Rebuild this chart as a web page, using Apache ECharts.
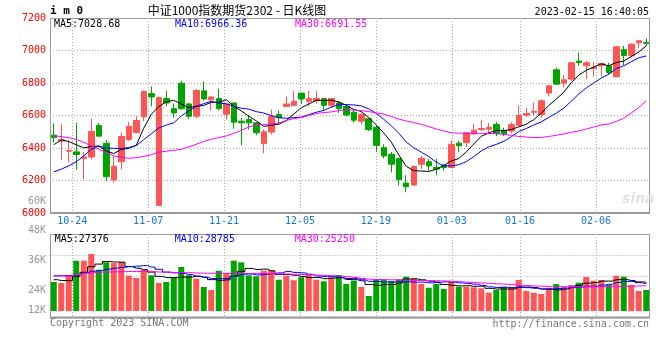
<!DOCTYPE html>
<html><head><meta charset="utf-8">
<script src="https://cdn.jsdelivr.net/npm/echarts@6/dist/echarts.min.js"></script>
<style>html,body{margin:0;padding:0;background:#fff}#c{width:660px;height:360px}</style>
</head><body><div id="c"></div>
<script>
const dates = ['2022-10-19','2022-10-20','2022-10-21','2022-10-24','2022-10-25','2022-10-26','2022-10-27','2022-10-28','2022-10-31',
'2022-11-01','2022-11-02','2022-11-03','2022-11-04','2022-11-07','2022-11-08','2022-11-09','2022-11-10','2022-11-11',
'2022-11-14','2022-11-15','2022-11-16','2022-11-17','2022-11-18','2022-11-21','2022-11-22','2022-11-23','2022-11-24','2022-11-25',
'2022-11-28','2022-11-29','2022-11-30','2022-12-01','2022-12-02','2022-12-05','2022-12-06','2022-12-07','2022-12-08','2022-12-09',
'2022-12-12','2022-12-13','2022-12-14','2022-12-15','2022-12-16','2022-12-19','2022-12-20','2022-12-21','2022-12-22','2022-12-23',
'2022-12-26','2022-12-27','2022-12-28','2022-12-29','2022-12-30','2023-01-03','2023-01-04','2023-01-05','2023-01-06',
'2023-01-09','2023-01-10','2023-01-11','2023-01-12','2023-01-13','2023-01-16','2023-01-17','2023-01-18','2023-01-19','2023-01-20',
'2023-01-30','2023-01-31','2023-02-01','2023-02-02','2023-02-03','2023-02-06','2023-02-07','2023-02-08','2023-02-09','2023-02-10',
'2023-02-13','2023-02-14','2023-02-15'];
const tickDates = ['10-24','11-07','11-21','12-05','12-19','01-03','01-16','02-06'];

const opens = [6479,6443,6380,6376,6337,6345,6539,6429,6203,6315,6453,6494,6592,6734,6046,6704,6642,6799,6671,6595,
6752,6697,6704,6608,6677,6565,6575,6555,6427,6498,6606,6656,6661,6738,6687,6690,6704,6663,6677,6656,
6620,6565,6580,6528,6402,6362,6335,6184,6172,6300,6315,6280,6294,6280,6430,6433,6486,6514,6516,6545,
6508,6504,6539,6602,6620,6606,6738,6881,6799,6824,6935,6906,6890,6906,6905,6839,7005,6968,7047,7050];
const closes = [6464,6451,6384,6360,6345,6502,6473,6223,6288,6471,6533,6569,6748,6714,6710,6677,6616,6642,6595,6754,
6702,6714,6642,6671,6559,6555,6555,6494,6500,6595,6586,6671,6687,6702,6704,6704,6663,6704,6642,6603,
6571,6606,6514,6416,6351,6300,6205,6162,6286,6337,6290,6270,6280,6423,6414,6494,6510,6520,6527,6488,
6488,6545,6600,6612,6626,6691,6783,6793,6820,6925,6925,6925,6896,6921,6864,7023,6969,7039,7060,7045];
const lows = [6433,6327,6314,6266,6209,6331,6473,6198,6186,6270,6443,6490,6565,6656,6046,6656,6586,6636,6580,6583,
6693,6632,6632,6575,6518,6418,6514,6479,6368,6484,6549,6653,6656,6671,6656,6673,6632,6647,6616,6595,
6555,6545,6504,6376,6337,6250,6168,6128,6168,6270,6260,6233,6260,6280,6375,6406,6480,6504,6484,6473,
6473,6490,6539,6592,6600,6586,6718,6789,6775,6814,6906,6824,6839,6839,6850,6835,6908,6958,7014,7027];
const highs = [6551,6545,6449,6555,6376,6581,6555,6449,6351,6494,6561,6595,6754,6779,6718,6752,6673,6812,6677,6763,
6809,6722,6765,6671,6681,6586,6604,6559,6514,6636,6630,6718,6752,6738,6752,6752,6704,6708,6691,6667,
6636,6616,6586,6539,6423,6376,6341,6233,6294,6351,6331,6335,6300,6447,6445,6500,6549,6575,6555,6561,
6525,6559,6661,6647,6681,6698,6783,6895,6850,6925,6986,6937,6928,6921,6925,7027,7029,7044,7064,7074];

const ma5 = [6420,6449,6440,6420,6401,6408,6413,6381,6366,6391,6398,6417,6522,6607,6655,6684,6693,6672,6648,6657,
6662,6681,6681,6697,6658,6628,6596,6567,6533,6540,6546,6569,6608,6648,6670,6694,6692,6695,6683,6663,
6637,6625,6587,6542,6492,6437,6357,6287,6261,6258,6256,6269,6293,6320,6335,6376,6424,6472,6493,6508,
6507,6514,6530,6547,6574,6615,6662,6701,6743,6802,6849,6878,6898,6918,6906,6926,6935,6963,6991,7028.68];
const ma10 = [6253,6270,6290,6315,6351,6392,6412,6400,6398,6396,6403,6415,6451,6487,6523,6541,6555,6597,6628,6656,
6673,6687,6677,6672,6657,6645,6639,6624,6615,6599,6587,6583,6587,6590,6605,6620,6631,6652,6666,6667,
6665,6659,6641,6613,6577,6537,6491,6437,6401,6375,6347,6313,6290,6290,6297,6316,6347,6382,6407,6422,
6441,6469,6501,6520,6541,6561,6588,6615,6645,6688,6732,6770,6800,6831,6854,6888,6906,6931,6955,6966.36];
const ma30 = [6476,6470,6464,6453,6435,6413,6392,6374,6352,6343,6337,6340,6349,6358,6374,6380,6386,6392,6407,6423,
6441,6453,6465,6474,6490,6508,6529,6542,6545,6548,6554,6569,6581,6587,6600,6612,6618,6622,6630,6636,
6633,6630,6624,6616,6609,6594,6578,6566,6557,6545,6532,6517,6505,6494,6491,6490,6490,6490,6490,6489,
6484,6478,6471,6468,6464,6465,6471,6478,6487,6496,6505,6517,6529,6542,6548,6563,6584,6616,6649,6691.55];

const volumes = [29000,28000,35700,50300,50300,57000,41300,48700,48000,49000,35300,33000,41300,35700,28000,29000,33000,44000,35700,32300,
24000,21000,40300,38000,50300,48700,35700,34700,40300,41000,31300,35300,30700,33700,36300,31300,29700,33500,36000,27000,
30300,24000,15000,31700,31700,30000,31700,34300,33000,27000,23300,27000,22000,29000,24300,24300,23700,22700,18300,21000,
24300,23700,31000,20000,18300,17000,23300,27000,23700,26000,28300,34000,30300,31000,26000,35300,34300,26000,20000,21000];
const volMa5 = [31300,30500,30300,34700,38660,44260,46920,49520,49060,48800,44460,42800,41320,38860,34660,33400,33400,33940,33940,34800,
33800,31400,30660,31120,34720,39660,42600,41480,41940,40080,36600,36520,35720,34400,33460,33460,32340,32900,33360,31500,
31300,30160,26460,25600,26540,26480,28020,31880,32140,31200,29860,28920,26460,25660,25120,25320,24660,24800,22660,22000,
22000,22000,23660,24000,23460,22000,21920,21120,21860,23400,25660,27800,28460,29920,29920,31320,31380,30520,28320,27376];
const volMa10 = [35300,35300,35500,36300,38000,39700,40500,41800,42800,43730,44360,44860,45420,43960,41730,38930,38100,37630,36400,34730,
33600,32400,32300,32530,34760,36730,37000,36070,36530,37400,38130,39560,38600,38170,36770,35030,34430,34310,33880,32480,
32380,31250,29680,29480,29020,28890,29090,29170,28870,28870,28170,28470,29170,28900,28160,27590,26790,25630,24160,23560,
23660,23330,24230,23330,22730,22000,21960,22390,22930,23430,23830,24860,24790,25890,26660,28490,29590,29490,29120,28785];
const volMa30 = [35000,35000,35000,36500,37500,38300,38800,39000,39200,39300,39500,39500,39500,39300,39000,38800,38500,38300,38300,38000,
37800,37700,37700,37600,37600,37500,37500,37400,37400,37300,37200,37000,36800,36500,36200,35900,35600,35300,34800,34300,
33500,32500,31800,31500,31300,31200,31000,30800,30600,30400,30300,30200,30000,29600,29200,28800,28400,28000,27600,27200,
26800,26300,25800,25400,25000,24800,24600,24400,24300,24200,24100,24100,24200,24300,24400,24600,24800,24900,25100,25250];

const priceMin = 6000, priceMax = 7200, priceStep = 200;
const volLabelMin = 12000, volLabelMax = 60000, volLabelStep = 12000;

const RED = '#ff5555', GREEN = '#00a400';
const MONO = 'DejaVu Sans Mono';
const GRID_C = '#aaaaaa';
const showTick = (i) => tickDates.indexOf(dates[i].slice(5)) >= 0;
const isUp = (i) => closes[i] >= opens[i];

const chart = echarts.init(document.getElementById('c'), null, {renderer: 'canvas', width: 660, height: 360});
const dotted = {color: GRID_C, width: 1, type: [1, 2]};
const txt = (text, x, y, color, opt) => Object.assign({
  type: 'text', x: x, y: y, z: 100, silent: true,
  style: Object.assign({text: text, fill: color, font: '10px "' + MONO + '"', textAlign: 'left', textVerticalAlign: 'middle'}, opt || {})
});

const option = {
  animation: false,
  backgroundColor: '#ffffff',
  grid: [
    {left: 50, top: 18, width: 600, height: 195, containLabel: false, outerBoundsMode: 'none'},
    {left: 49.5, top: 18, width: 599.6, height: 195, containLabel: false, outerBoundsMode: 'none'},
    {left: 50, top: 234, width: 600, height: 77, containLabel: false, outerBoundsMode: 'none'},
    {left: 49.5, top: 234, width: 599.6, height: 84, containLabel: false, outerBoundsMode: 'none'},
    {left: 50, top: 201, width: 600, height: 119, containLabel: false, outerBoundsMode: 'none'}
  ],
  xAxis: [
    {gridIndex: 0, type: 'category', data: dates, boundaryGap: true, show: false},
    {gridIndex: 1, type: 'category', data: dates, boundaryGap: false,
      axisLine: {show: false}, axisTick: {show: false},
      axisLabel: {interval: (i) => showTick(i), formatter: (v) => v.slice(5), color: '#1677cc',
        fontFamily: MONO, fontSize: 10, lineHeight: 10, margin: 3, hideOverlap: false},
      splitLine: {show: true, interval: (i) => showTick(i), lineStyle: dotted}},
    {gridIndex: 2, type: 'category', data: dates, boundaryGap: true, show: false},
    {gridIndex: 3, type: 'category', data: dates, boundaryGap: false,
      axisLine: {show: false}, axisTick: {show: false}, axisLabel: {show: false},
      splitLine: {show: true, interval: (i) => showTick(i), lineStyle: dotted}},
    {gridIndex: 4, type: 'category', data: dates, show: false}
  ],
  yAxis: [
    {gridIndex: 0, type: 'value', min: priceMin, max: priceMax, interval: priceStep,
      axisLine: {show: false}, axisTick: {show: false},
      axisLabel: {color: '#ff0000', fontFamily: MONO, fontSize: 10, margin: 4, formatter: (v) => String(v)},
      splitLine: {show: true, lineStyle: dotted}},
    {gridIndex: 1, type: 'value', min: 0, max: 1, show: false},
    {gridIndex: 2, type: 'value', min: 0, max: 77000, show: false},
    {gridIndex: 3, type: 'value', min: 0, max: 4, interval: 1,
      axisLine: {show: false}, axisTick: {show: false}, axisLabel: {show: false},
      splitLine: {show: true, lineStyle: dotted}},
    {gridIndex: 4, type: 'value', min: volLabelMin, max: volLabelMax, interval: volLabelStep,
      axisLine: {show: false}, axisTick: {show: false}, splitLine: {show: false},
      axisLabel: {color: '#999999', fontFamily: MONO, fontSize: 10, margin: 4,
        formatter: (v) => v === volLabelMin ? '{lo|' + (v / 1000) + 'K}' : (v / 1000) + 'K',
        rich: {lo: {color: '#999999', fontFamily: MONO, fontSize: 10, padding: [0, 0, 19, 0]}}}}
  ],
  series: [
    {type: 'candlestick', xAxisIndex: 0, yAxisIndex: 0, barWidth: 6,
      data: dates.map((d, i) => [opens[i], closes[i], lows[i], highs[i]]),
      itemStyle: {color: RED, color0: GREEN, borderColor: RED, borderColor0: GREEN, borderWidth: 1}},
    {type: 'line', xAxisIndex: 0, yAxisIndex: 0, data: ma5, symbol: 'none', lineStyle: {color: '#000000', width: 1}},
    {type: 'line', xAxisIndex: 0, yAxisIndex: 0, data: ma10, symbol: 'none', lineStyle: {color: '#0000ff', width: 1}},
    {type: 'line', xAxisIndex: 0, yAxisIndex: 0, data: ma30, symbol: 'none', lineStyle: {color: '#ff00ff', width: 1}},
    {type: 'bar', xAxisIndex: 2, yAxisIndex: 2, data: volumes, barWidth: 6,
      itemStyle: {color: (p) => isUp(p.dataIndex) ? RED : GREEN}},
    {type: 'line', xAxisIndex: 2, yAxisIndex: 2, data: volMa5, symbol: 'none', step: 'middle', lineStyle: {color: '#000000', width: 1}},
    {type: 'line', xAxisIndex: 2, yAxisIndex: 2, data: volMa10, symbol: 'none', step: 'middle', lineStyle: {color: '#0000ff', width: 1}},
    {type: 'line', xAxisIndex: 2, yAxisIndex: 2, data: volMa30, symbol: 'none', step: 'middle', lineStyle: {color: '#ff00ff', width: 1}}
  ],
  graphic: [
    {type: 'rect', z: 90, silent: true, shape: {x: 50.5, y: 18.5, width: 599, height: 194.5}, style: {fill: null, stroke: '#999999', lineWidth: 1}},
    {type: 'line', z: 90, silent: true, shape: {x1: 50, y1: 213, x2: 650, y2: 213}, style: {stroke: '#999999', lineWidth: 2}},
    {type: 'rect', z: 90, silent: true, shape: {x: 50.5, y: 234.5, width: 599, height: 83}, style: {fill: null, stroke: '#999999', lineWidth: 1}},
    {type: 'line', z: 90, silent: true, shape: {x1: 50, y1: 317.5, x2: 650, y2: 317.5}, style: {stroke: '#999999', lineWidth: 2}},
    txt('i m 0', 50, 11, '#000000', {font: 'bold 11px "' + MONO + '"'}),
    txt('中证1000指数期货2302 - 日K线图', 237, 10, '#000000', {font: '12px "Noto Sans CJK SC"', textAlign: 'center'}),
    txt('2023-02-15 16:40:05', 649, 12, '#000000', {textAlign: 'right'}),
    txt('MA5:7028.68', 54, 24, '#000000'),
    txt('MA10:6966.36', 175, 24, '#0000ff'),
    txt('MA30:6691.55', 295, 24, '#ff00ff'),
    txt('MA5:27376', 54.7, 239, '#000000'),
    txt('MA10:28785', 174.7, 239, '#0000ff'),
    txt('MA30:25250', 294.7, 239, '#ff00ff'),
    txt('Copyright 2023 SINA.COM', 50, 323.5, '#777777'),
    txt('http://finance.sina.com.cn', 649, 324, '#777777', {textAlign: 'right'}),
    txt('sina', 622, 199, '#e2e2e2', {font: 'italic bold 14px "DejaVu Sans"'})
  ]
};
chart.setOption(option);
</script>
</body></html>
